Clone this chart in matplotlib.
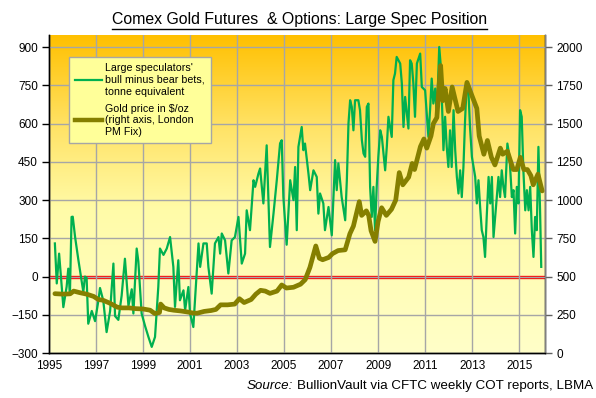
"""Comex gold futures & options: large speculator net position vs gold price."""
import numpy as np
import matplotlib.pyplot as plt
from matplotlib.colors import LinearSegmentedColormap
from matplotlib.lines import Line2D

plt.rcParams["font.family"] = ["Liberation Sans", "DejaVu Sans"]

# large speculators' net position, tonnes (decimal year, value)
spec_year = [
    1995.25, 1995.33, 1995.43, 1995.54, 1995.61, 1995.75, 1995.82, 1995.89, 1995.96, 1996.01,
    1996.11, 1996.25, 1996.39, 1996.46, 1996.53, 1996.60, 1996.67, 1996.82, 1996.96, 1997.10,
    1997.17, 1997.31, 1997.45, 1997.60, 1997.74, 1997.81, 1997.95, 1998.09, 1998.23, 1998.38,
    1998.52, 1998.59, 1998.73, 1998.80, 1998.94, 1999.09, 1999.23, 1999.37, 1999.51, 1999.65,
    1999.72, 1999.87, 2000.01, 2000.15, 2000.29, 2000.36, 2000.50, 2000.57, 2000.72, 2000.79,
    2000.93, 2001.00, 2001.14, 2001.21, 2001.36, 2001.43, 2001.57, 2001.71, 2001.78, 2001.92,
    2002.06, 2002.21, 2002.28, 2002.35, 2002.49, 2002.63, 2002.77, 2002.91, 2003.06, 2003.20,
    2003.34, 2003.41, 2003.55, 2003.70, 2003.77, 2003.91, 2003.98, 2004.12, 2004.26, 2004.40,
    2004.55, 2004.69, 2004.83, 2004.90, 2004.97, 2005.11, 2005.26, 2005.40, 2005.47, 2005.54,
    2005.61, 2005.75, 2005.82, 2005.89, 2006.04, 2006.11, 2006.25, 2006.39, 2006.46, 2006.53,
    2006.67, 2006.74, 2006.89, 2007.03, 2007.10, 2007.17, 2007.24, 2007.31, 2007.45, 2007.60,
    2007.67, 2007.74, 2007.81, 2007.88, 2007.95, 2008.02, 2008.16, 2008.23, 2008.31, 2008.38,
    2008.45, 2008.52, 2008.59, 2008.66, 2008.73, 2008.80, 2008.87, 2008.94, 2009.01, 2009.09,
    2009.16, 2009.23, 2009.30, 2009.37, 2009.44, 2009.58, 2009.65, 2009.72, 2009.79, 2009.94,
    2010.01, 2010.08, 2010.15, 2010.29, 2010.36, 2010.43, 2010.50, 2010.57, 2010.65, 2010.79,
    2010.86, 2011.00, 2011.07, 2011.14, 2011.21, 2011.28, 2011.35, 2011.43, 2011.50, 2011.60,
    2011.67, 2011.71, 2011.78, 2011.85, 2011.92, 2011.99, 2012.06, 2012.13, 2012.21, 2012.28,
    2012.35, 2012.42, 2012.49, 2012.56, 2012.63, 2012.70, 2012.77, 2012.84, 2012.91, 2012.99,
    2013.13, 2013.20, 2013.27, 2013.34, 2013.41, 2013.48, 2013.55, 2013.62, 2013.70, 2013.77,
    2013.84, 2013.91, 2013.98, 2014.12, 2014.19, 2014.26, 2014.33, 2014.40, 2014.50, 2014.59,
    2014.69, 2014.76, 2014.83, 2014.90, 2014.97, 2015.04, 2015.11, 2015.18, 2015.26, 2015.33,
    2015.40, 2015.47, 2015.54, 2015.61, 2015.68, 2015.75, 2015.82, 2015.89, 2015.94,
]
spec_net = [
    130, -27, 90, -40, -120, -40, 31, -70, 234, 235,
    155, 65, -20, -60, 0, -5, -185, -135, -175, -95,
    -45, -95, -218, -135, 51, -155, -170, -75, 70, -115,
    -50, -145, 110, 60, -145, -195, -237, -276, -237, -40,
    110, 85, 110, 155, 38, -119, 64, -93, -54, -132,
    -41, -145, -198, -93, 130, 38, 130, 130, 38, -67,
    130, 155, 90, 169, 142, 12, 142, 155, 234, 51,
    90, 260, 182, 378, 352, 404, 424, 287, 515, 116,
    247, 378, 523, 535, 312, 125, 378, 300, 430, 182,
    509, 587, 496, 522, 402, 339, 417, 391, 247, 326,
    287, 182, 273, 162, 312, 457, 339, 444, 312, 221,
    378, 601, 692, 666, 574, 692, 692, 653, 535, 483,
    470, 666, 679, 352, 234, 352, 182, 352, 470, 574,
    548, 483, 417, 509, 627, 548, 771, 797, 862, 836,
    758, 587, 705, 581, 849, 836, 758, 627, 836, 875,
    744, 731, 640, 548, 653, 777, 679, 738, 627, 901,
    823, 705, 496, 627, 509, 430, 574, 430, 653, 496,
    391, 326, 417, 312, 430, 614, 758, 731, 587, 470,
    391, 287, 378, 273, 182, 155, 77, 234, 391, 287,
    391, 155, 234, 391, 312, 417, 352, 312, 522, 470,
    312, 339, 169, 352, 287, 653, 627, 417, 260, 339,
    260, 352, 182, 77, 234, 182, 509, 260, 38,
]

# gold price, London PM fix, $/oz
gold_year = [
    1995.25, 1995.60, 1995.90, 1996.05, 1996.30, 1996.60, 1996.90, 1997.10, 1997.30, 1997.60,
    1997.90, 1998.10, 1998.40, 1998.70, 1999.00, 1999.30, 1999.50, 1999.70, 1999.75, 1999.90,
    2000.10, 2000.30, 2000.60, 2000.90, 2001.10, 2001.30, 2001.60, 2001.90, 2002.10, 2002.30,
    2002.60, 2002.90, 2003.10, 2003.30, 2003.60, 2003.80, 2004.00, 2004.20, 2004.40, 2004.70,
    2004.90, 2005.10, 2005.40, 2005.70, 2005.90, 2006.10, 2006.35, 2006.50, 2006.64, 2006.90,
    2007.06, 2007.30, 2007.60, 2007.80, 2007.95, 2008.20, 2008.30, 2008.50, 2008.60, 2008.70,
    2008.87, 2009.00, 2009.15, 2009.35, 2009.57, 2009.75, 2009.90, 2010.05, 2010.30, 2010.45,
    2010.55, 2010.80, 2010.95, 2011.07, 2011.25, 2011.35, 2011.50, 2011.60, 2011.66, 2011.75,
    2011.85, 2011.99, 2012.15, 2012.40, 2012.60, 2012.78, 2013.00, 2013.20, 2013.30, 2013.50,
    2013.65, 2013.82, 2013.97, 2014.20, 2014.30, 2014.50, 2014.75, 2014.90, 2015.05, 2015.20,
    2015.35, 2015.50, 2015.60, 2015.80, 2015.98,
]
gold_price = [
    388, 385, 387, 405, 395, 385, 370, 350, 345, 325,
    300, 295, 295, 290, 288, 280, 258, 265, 320, 295,
    285, 280, 275, 268, 262, 260, 272, 278, 285, 315,
    315, 320, 355, 330, 350, 385, 410, 405, 390, 405,
    445, 425, 430, 450, 480, 560, 700, 620, 610, 625,
    650, 670, 675, 780, 830, 990, 900, 930, 900, 800,
    730, 860, 950, 900, 940, 1000, 1180, 1100, 1150, 1240,
    1200, 1350, 1400, 1340, 1420, 1500, 1540, 1760, 1880, 1650,
    1730, 1580, 1740, 1580, 1600, 1770, 1680, 1600, 1420, 1300,
    1390, 1280, 1230, 1340, 1300, 1320, 1200, 1200, 1280, 1200,
    1200, 1160, 1100, 1170, 1060,
]

year_ticks = list(range(1995, 2017, 2))
left_ticks = list(range(-300, 901, 150))
right_ticks = list(range(0, 2001, 250))

GREEN = "#00B050"
OLIVE = "#857F00"
GRID = "#A6A6A6"


def gradient_background(ax):
    cmap = LinearSegmentedColormap.from_list(
        "bg", [(0.0, "#FFFFC8"), (0.45, "#FFFBA8"), (0.72, "#FFE264"), (1.0, "#FFC000")])
    grad = np.linspace(0, 1, 256).reshape(-1, 1)
    ax.imshow(grad, cmap=cmap, origin="lower", aspect="auto",
              extent=(0, 1, 0, 1), transform=ax.transAxes, zorder=0)


def main():
    fig = plt.figure(figsize=(5.96, 3.98), dpi=100)
    ax = fig.add_axes([49 / 596, 45 / 398, 496 / 596, 318 / 398])
    ax.patch.set_visible(False)
    gradient_background(ax)

    ax.set_xlim(1995, 2016.1)
    ax.set_ylim(-300, 948)
    ax.set_xticks(year_ticks)
    ax.set_yticks(left_ticks)
    ax.grid(True, color=GRID, lw=1.0)
    ax.set_axisbelow(False)
    for gl in ax.get_xgridlines() + ax.get_ygridlines():
        gl.set_zorder(1)

    ax.axhline(0, color="#FF0000", lw=2.4, zorder=2)
    ax.plot(spec_year, spec_net, color=GREEN, lw=1.6, zorder=3)

    ax2 = ax.twinx()
    ax2.set_ylim(0, 2080)
    ax2.set_yticks(right_ticks)
    ax2.plot(gold_year, gold_price, color=OLIVE, lw=3.4, solid_capstyle="round")

    for a in (ax, ax2):
        a.spines["top"].set_visible(False)
        for s in ("left", "right", "bottom"):
            a.spines[s].set_color("black")
            a.spines[s].set_linewidth(1.0)
    ax.tick_params(axis="y", direction="out", length=5, width=1, labelsize=8.5, pad=3)
    ax2.tick_params(axis="y", direction="out", length=5, width=1, labelsize=8.5, pad=3,
                    color="#606060")
    ax.tick_params(axis="x", length=0, labelsize=8.5, pad=5)
    ax2.spines["right"].set_color("#808080")

    handles = [Line2D([], [], color=GREEN, lw=1.6), Line2D([], [], color=OLIVE, lw=3.2)]
    labels = ["Large speculators'\nbull minus bear bets,\ntonne equivalent",
              "Gold price in \\$/oz\n(right axis, London\nPM Fix)"]
    leg = ax2.legend(handles, labels, loc="upper left", bbox_to_anchor=(0.04, 0.931),
                     borderaxespad=0, fontsize=7.7, frameon=True, fancybox=False,
                     facecolor="#FFFF99", edgecolor="#A6A6A6", framealpha=1,
                     handlelength=2.5, handletextpad=0.25, labelspacing=0.65,
                     borderpad=0.6)
    leg.get_frame().set_linewidth(1.0)

    title = fig.text(0.503, 0.94, "Comex Gold Futures  & Options: Large Spec Position",
                     ha="center", va="baseline", fontsize=11.4)
    src = fig.text(0.995, 0.022, "BullionVault via CFTC weekly COT reports, LBMA",
                   ha="right", va="baseline", fontsize=9.6)

    fig.canvas.draw()
    r = fig.canvas.get_renderer()
    bb = title.get_window_extent(r).transformed(fig.transFigure.inverted())
    fig.add_artist(Line2D([bb.x0, bb.x1], [0.928, 0.928], color="black", lw=1.0,
                          transform=fig.transFigure))
    sb = src.get_window_extent(r).transformed(fig.transFigure.inverted())
    fig.text(sb.x0 - 0.006, 0.022, "Source:", ha="right", va="baseline",
             fontsize=9.6, style="italic")

    fig.savefig("out.png", dpi=100)


if __name__ == "__main__":
    main()
